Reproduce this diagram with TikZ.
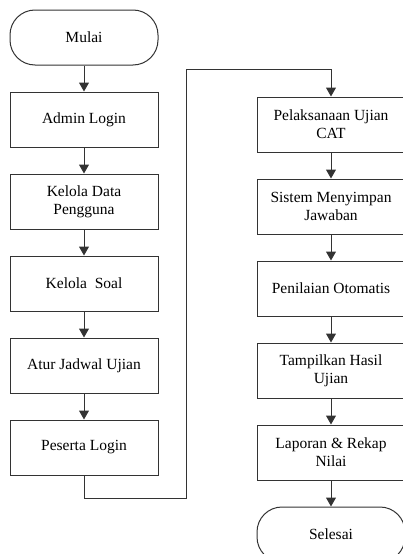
\documentclass[tikz,border=0pt]{standalone}
\usepackage{fontspec}
\setmainfont{Liberation Serif}
\usetikzlibrary{positioning,arrows.meta}

\begin{document}
\begin{tikzpicture}[x=1pt,y=-1pt,
  node distance=26pt,
  box/.style={draw=black!80, line width=1pt, minimum width=148pt, minimum height=55pt,
    inner sep=0pt, align=center, font=\fontsize{15.5}{18}\selectfont},
  terminal/.style={box, rounded corners=25pt},
  flow/.style={draw=black!80, line width=1pt, -{Triangle[width=10pt,length=9pt]}}]
  \useasboundingbox (0,0) rectangle (403,554);
  % left column
  \node[terminal] (mulai) at (84,37.5) {Mulai};
  \node[box, below=of mulai] (admin) {Admin Login};
  \node[box, below=of admin] (pengguna) {Kelola Data\\Pengguna};
  \node[box, below=of pengguna] (soal) {Kelola\ \ Soal};
  \node[box, below=of soal] (jadwal) {Atur Jadwal Ujian};
  \node[box, below=of jadwal] (peserta) {Peserta Login};
  % right column
  \node[box] (cat) at (331,124.5) {Pelaksanaan Ujian\\CAT};
  \node[box, below=of cat] (simpan) {Sistem Menyimpan\\Jawaban};
  \node[box, below=of simpan] (nilai) {Penilaian Otomatis};
  \node[box, below=of nilai] (hasil) {Tampilkan Hasil\\Ujian};
  \node[box, below=of hasil] (rekap) {Laporan \& Rekap\\Nilai};
  \node[terminal, below=of rekap] (selesai) {Selesai};
  \coordinate (bawah) at (186,498);
  \coordinate (atas) at (186,69);

  \draw[flow] (mulai) -- (admin);
  \draw[flow] (admin) -- (pengguna);
  \draw[flow] (pengguna) -- (soal);
  \draw[flow] (soal) -- (jadwal);
  \draw[flow] (jadwal) -- (peserta);
  \draw[flow] (peserta.south) |- (bawah) -- (atas) -| (cat.north);
  \draw[flow] (cat) -- (simpan);
  \draw[flow] (simpan) -- (nilai);
  \draw[flow] (nilai) -- (hasil);
  \draw[flow] (hasil) -- (rekap);
  \draw[flow] (rekap) -- (selesai);
\end{tikzpicture}
\end{document}
